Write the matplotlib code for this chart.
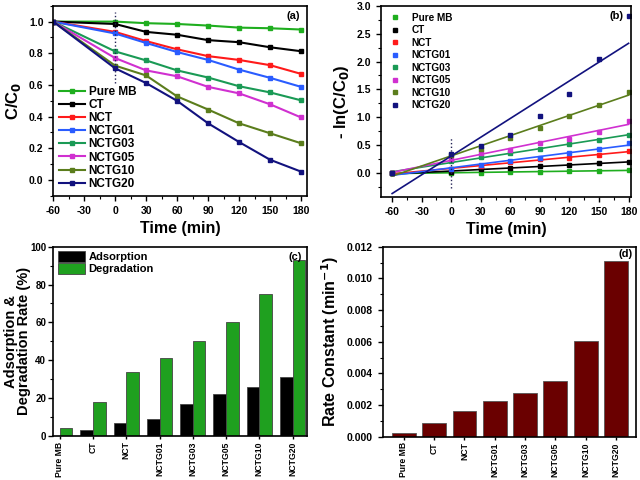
import numpy as np
import matplotlib
matplotlib.use('Agg')
import matplotlib.pyplot as plt
from matplotlib.ticker import MultipleLocator

plt.rcParams['font.family'] = ['Liberation Sans', 'DejaVu Sans']
plt.rcParams['font.weight'] = 'bold'
plt.rcParams['axes.labelweight'] = 'bold'
plt.rcParams['axes.unicode_minus'] = False

samples = ['Pure MB', 'CT', 'NCT', 'NCTG01', 'NCTG03', 'NCTG05', 'NCTG10', 'NCTG20']
colors = ['#1fae1f', '#000000', '#ff1a1a', '#2a5cff', '#1a9a55', '#d030d0', '#5b7d1c', '#12127e']

time = [-60, 0, 30, 60, 90, 120, 150, 180]

# C/C0 curves, panel (a)
c_pure_mb = [1.0, 1.0, 0.99, 0.985, 0.975, 0.962, 0.958, 0.95]
c_ct = [1.0, 0.985, 0.935, 0.917, 0.883, 0.87, 0.838, 0.813]
c_nct = [1.0, 0.935, 0.877, 0.825, 0.782, 0.758, 0.725, 0.67]
c_nctg01 = [1.0, 0.925, 0.865, 0.808, 0.758, 0.697, 0.645, 0.588]
c_nctg03 = [1.0, 0.812, 0.755, 0.692, 0.647, 0.592, 0.553, 0.503]
c_nctg05 = [1.0, 0.77, 0.692, 0.655, 0.588, 0.547, 0.478, 0.395]
c_nctg10 = [1.0, 0.722, 0.66, 0.528, 0.445, 0.358, 0.295, 0.232]
c_nctg20 = [1.0, 0.705, 0.612, 0.5, 0.358, 0.24, 0.128, 0.053]
conc = [c_pure_mb, c_ct, c_nct, c_nctg01, c_nctg03, c_nctg05, c_nctg10, c_nctg20]

# -ln(C/C0) points, panel (b)
k_pure_mb = [0.0, 0.0, 0.01, 0.015, 0.025, 0.039, 0.043, 0.05]
k_ct = [0.0, 0.015, 0.065, 0.087, 0.125, 0.14, 0.177, 0.205]
k_nct = [0.0, 0.067, 0.13, 0.19, 0.246, 0.277, 0.32, 0.40]
k_nctg01 = [0.0, 0.078, 0.145, 0.213, 0.277, 0.361, 0.439, 0.531]
k_nctg03 = [0.0, 0.208, 0.281, 0.368, 0.435, 0.524, 0.592, 0.685]
k_nctg05 = [0.0, 0.261, 0.368, 0.423, 0.531, 0.62, 0.738, 0.93]
k_nctg10 = [0.0, 0.326, 0.44, 0.638, 0.81, 1.027, 1.22, 1.46]
k_nctg20 = [0.0, 0.35, 0.49, 0.69, 1.03, 1.42, 2.05, 2.82]
kin = [k_pure_mb, k_ct, k_nct, k_nctg01, k_nctg03, k_nctg05, k_nctg10, k_nctg20]

# panel (c)
adsorption = [0, 3, 7, 9, 17, 22, 26, 31]
degradation = [4, 18, 34, 41, 50, 60, 75, 93]

# panel (d)
rate_const = [0.00021, 0.00089, 0.00165, 0.00224, 0.00275, 0.00355, 0.00606, 0.0111]

fig = plt.figure(figsize=(6.4, 4.8), dpi=100)
ax_a = fig.add_axes([0.083, 0.592, 0.397, 0.396])
ax_b = fig.add_axes([0.595, 0.590, 0.391, 0.398])
ax_c = fig.add_axes([0.083, 0.092, 0.397, 0.394])
ax_d = fig.add_axes([0.598, 0.090, 0.395, 0.396])

tick_fs = 7.5
for ax in [ax_a, ax_b, ax_c, ax_d]:
    ax.tick_params(which='both', direction='out', top=False, right=False, labelsize=tick_fs)
    ax.tick_params(which='major', length=3.5, width=1)
    ax.tick_params(which='minor', length=2, width=0.8)
    for s in ax.spines.values():
        s.set_linewidth(1.2)

# (a)
for name, col, y in zip(samples, colors, conc):
    ax_a.plot(time, y, '-s', color=col, lw=1.5, ms=3.5, label=name)
ax_a.plot([0, 0], [0.61, 1.06], ':', color='#222255', lw=1)
ax_a.set_xlim(-60, 186)
ax_a.set_ylim(-0.1, 1.1)
ax_a.xaxis.set_major_locator(MultipleLocator(30))
ax_a.xaxis.set_minor_locator(MultipleLocator(15))
ax_a.yaxis.set_major_locator(MultipleLocator(0.2))
ax_a.yaxis.set_minor_locator(MultipleLocator(0.1))
ax_a.set_xlabel('Time (min)', fontsize=11.5)
ax_a.set_ylabel('C/C$_\\mathbf{0}$', fontsize=12)
ax_a.text(0.97, 0.97, '(a)', transform=ax_a.transAxes, ha='right', va='top', fontsize=8)
ax_a.legend(loc='lower left', frameon=False, fontsize=8.5, handlelength=2.2,
            labelspacing=0.1, borderaxespad=0.1, handletextpad=0.3)

# (b)
tt = np.array(time)
for name, col, y in zip(samples, colors, kin):
    ax_b.plot(time, y, 's', color=col, ms=3.5, label=name)
    p = np.polyfit(tt, y, 1)
    ax_b.plot(tt[[0, -1]], np.polyval(p, tt[[0, -1]]), '-', color=col, lw=1.2)
ax_b.plot([0, 0], [-0.27, 0.65], ':', color='#222255', lw=1)
ax_b.set_xlim(-71.5, 182.5)
ax_b.set_ylim(-0.425, 3.0)
ax_b.xaxis.set_major_locator(MultipleLocator(30))
ax_b.xaxis.set_minor_locator(MultipleLocator(15))
ax_b.yaxis.set_major_locator(MultipleLocator(0.5))
ax_b.yaxis.set_minor_locator(MultipleLocator(0.25))
ax_b.set_xlabel('Time (min)', fontsize=11.5)
ax_b.set_ylabel('- ln(C/C$_\\mathbf{0}$)', fontsize=12)
ax_b.text(0.97, 0.97, '(b)', transform=ax_b.transAxes, ha='right', va='top', fontsize=8)
ax_b.legend(loc='upper left', frameon=False, fontsize=7.2, handlelength=1.5,
            labelspacing=0.25, borderaxespad=0.3, handletextpad=0.9, markerscale=1.0)

# (c)
x = np.arange(len(samples))
w = 0.38
ax_c.bar(x - w / 2, adsorption, w, color='black', edgecolor='#444444', lw=0.6, label='Adsorption')
ax_c.bar(x + w / 2, degradation, w, color='#1fa01f', edgecolor='#444444', lw=0.6, label='Degradation')
ax_c.set_xlim(-0.2, 7.44)
ax_c.set_ylim(0, 100)
ax_c.set_xticks(x)
ax_c.set_xticklabels(samples, rotation=90, fontsize=6.2)
ax_c.tick_params(axis='x', which='major', length=2.5, pad=1.5)
ax_c.tick_params(axis='y', which='major', pad=1.5, labelsize=7)
ax_c.yaxis.set_major_locator(MultipleLocator(20))
ax_c.yaxis.set_minor_locator(MultipleLocator(10))
ax_c.set_ylabel('Adsorption &\nDegradation Rate (%)', fontsize=10.5, linespacing=0.9)
ax_c.yaxis.set_label_coords(-0.088, 0.5)
ax_c.text(0.98, 0.97, '(c)', transform=ax_c.transAxes, ha='right', va='top', fontsize=8)
ax_c.legend(loc='upper left', frameon=False, fontsize=8, handlelength=2.5, handleheight=1.1,
            labelspacing=0.1, borderaxespad=0.0, handletextpad=0.3)

# (d)
ax_d.bar(x, rate_const, 0.79, color='#6a0000', edgecolor='#555555', lw=0.6)
ax_d.set_xlim(-0.7, 7.65)
ax_d.set_ylim(0, 0.012)
ax_d.set_xticks(x)
ax_d.set_xticklabels(samples, rotation=90, fontsize=6.2)
ax_d.tick_params(axis='x', which='major', length=2.5, pad=1.5)
ax_d.yaxis.set_major_locator(MultipleLocator(0.002))
ax_d.yaxis.set_minor_locator(MultipleLocator(0.001))
ax_d.yaxis.set_major_formatter(plt.FormatStrFormatter('%.3f'))
ax_d.set_ylabel('Rate Constant (min$^{\\mathbf{-1}}$)', fontsize=11.5)
ax_d.text(0.99, 0.99, '(d)', transform=ax_d.transAxes, ha='right', va='top', fontsize=8)

fig.savefig('out.png', dpi=100)
